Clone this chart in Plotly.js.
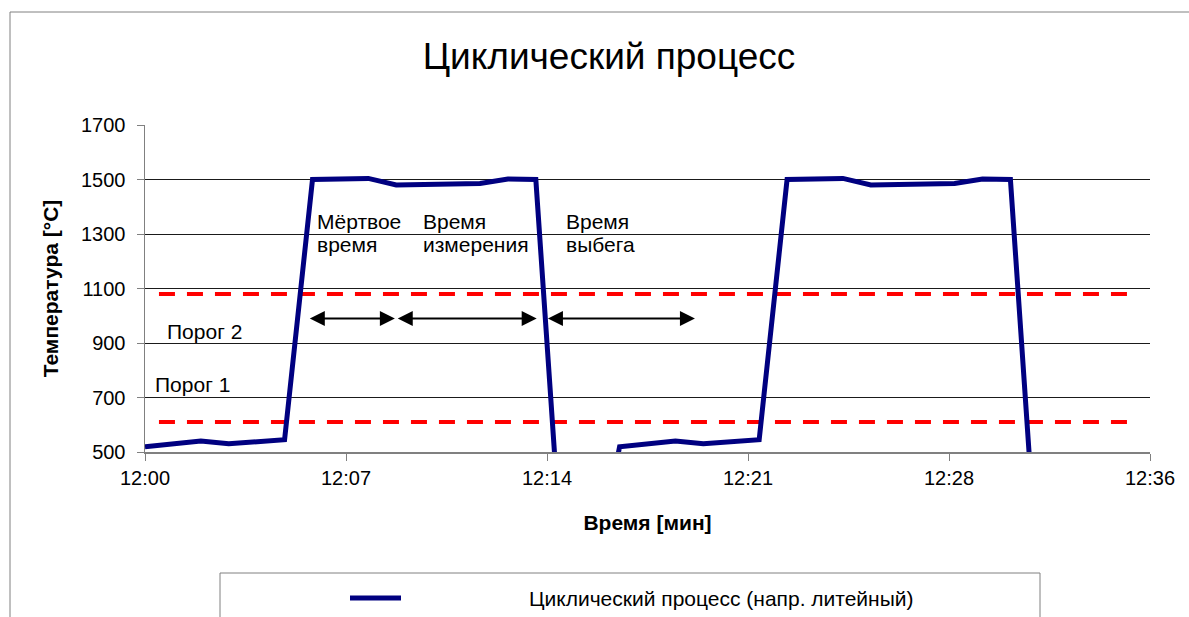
<!DOCTYPE html>
<html>
<head>
<meta charset="utf-8">
<script src="https://cdn.plot.ly/plotly-3.0.1.min.js"></script>
<style>
  html, body { margin: 0; padding: 0; background: #fff; }
  #chart { width: 1189px; height: 617px; }
</style>
</head>
<body>
<div id="chart"></div>
<script>
// ---- data (minutes after 12:00, temperature in °C) ----
const timeMin = [0, 2, 3, 5, 6, 8, 9, 12, 13, 14, 15, 16, 17, 19, 20, 22, 23, 25, 26, 29, 30, 31, 32];
const tempC   = [519, 540, 530, 545, 1500, 1504, 1480, 1485, 1502, 1500, 0, 0, 519, 540, 530, 545, 1500, 1504, 1480, 1485, 1502, 1500, 0];

const thresholdX = [0.5, 35.5];
const threshold1 = 610;   // Порог 1
const threshold2 = 1080;  // Порог 2

const xTickVals = [0, 7.2, 14.4, 21.6, 28.8, 36];
const xTickText = ["12:00", "12:07", "12:14", "12:21", "12:28", "12:36"];

const arrowFrom  = [5.85, 9.0, 14.38];
const arrowTo    = [8.95, 14.03, 19.7];
const arrowLevel = 990;

const phaseLine1 = ["Мёртвое", "Время", "Время"];
const phaseLine2 = ["время", "измерения", "выбега"];
const phaseLabelX = [6.1, 9.9, 15.0];
const phaseLine1Y = 1345;
const phaseLine2Y = 1263;

const thresholdLabels = ["Порог 2", "Порог 1"];
const thresholdLabelX = [0.7, 0.28];
const thresholdLabelY = [941, 748];

const seriesName = "Циклический процесс (напр. литейный)";

const FONT = "Liberation Sans, Arial, sans-serif";

// ---- traces ----
const traces = [
  {
    x: thresholdX, y: [threshold2, threshold2], mode: "lines", showlegend: false,
    line: { color: "#ff0000", width: 4, dash: "16px,12px" }, hoverinfo: "skip"
  },
  {
    x: thresholdX, y: [threshold1, threshold1], mode: "lines", showlegend: false,
    line: { color: "#ff0000", width: 4, dash: "16px,12px" }, hoverinfo: "skip"
  },
  {
    x: timeMin, y: tempC, mode: "lines", name: seriesName, showlegend: false,
    line: { color: "#000080", width: 5 }
  }
];

// ---- geometry helpers (plot area in pixels) ----
const L = 145, R = 39, T = 125, B = 165, W = 1189, H = 617;
const pw = W - L - R, ph = H - T - B;
const px = v => (v - L) / pw;
const py = v => (H - B - v) / ph;

// ---- annotations ----
const annotations = [];
for (let i = 0; i < arrowFrom.length; i++) {
  annotations.push({
    x: arrowTo[i], y: arrowLevel, ax: arrowFrom[i], ay: arrowLevel,
    xref: "x", yref: "y", axref: "x", ayref: "y",
    text: "", showarrow: true, arrowside: "end+start",
    arrowhead: 2, arrowsize: 1.5, arrowwidth: 2, arrowcolor: "#000",
    standoff: 0, startstandoff: 0
  });
}
for (let i = 0; i < phaseLine1.length; i++) {
  [[phaseLine1[i], phaseLine1Y], [phaseLine2[i], phaseLine2Y]].forEach(([t, yv]) => {
    annotations.push({
      x: phaseLabelX[i], y: yv, xref: "x", yref: "y",
      text: t, showarrow: false, xanchor: "left", yanchor: "middle",
      font: { family: FONT, size: 21, color: "#000" }
    });
  });
}
for (let i = 0; i < thresholdLabels.length; i++) {
  annotations.push({
    x: thresholdLabelX[i], y: thresholdLabelY[i], xref: "x", yref: "y",
    text: thresholdLabels[i], showarrow: false, xanchor: "left", yanchor: "middle",
    font: { family: FONT, size: 21, color: "#000" }
  });
}
// custom legend text
annotations.push({
  x: px(721), y: py(598), xref: "paper", yref: "paper",
  text: seriesName, showarrow: false, xanchor: "center", yanchor: "middle",
  font: { family: FONT, size: 21, color: "#000" }
});

const shapes = [
  // outer chart frame
  { type: "rect", xref: "paper", yref: "paper", x0: px(10), x1: px(1250), y0: py(700), y1: py(12),
    line: { color: "#808080", width: 1 }, fillcolor: "rgba(0,0,0,0)", layer: "below" },
  // legend box
  { type: "rect", xref: "paper", yref: "paper", x0: px(220), x1: px(1040), y0: py(700), y1: py(573),
    line: { color: "#808080", width: 1 }, fillcolor: "rgba(0,0,0,0)" },
  // legend line sample
  { type: "line", xref: "paper", yref: "paper", x0: px(350), x1: px(401), y0: py(598), y1: py(598),
    line: { color: "#000080", width: 5 } }
];

const layout = {
  width: W, height: H,
  margin: { l: L, r: R, t: T, b: B },
  paper_bgcolor: "#fff", plot_bgcolor: "#fff",
  font: { family: FONT, size: 20, color: "#000" },
  title: {
    text: "Циклический процесс",
    font: { family: FONT, size: 37, color: "#000" },
    xref: "container", x: 609 / W, xanchor: "center",
    yref: "container", y: 1 - 56 / H, yanchor: "middle"
  },
  xaxis: {
    range: [0, 36], tickvals: xTickVals, ticktext: xTickText,
    showgrid: false, zeroline: false,
    showline: true, linecolor: "#808080", linewidth: 2,
    ticks: "outside", ticklen: 7, tickcolor: "#808080", tickwidth: 1,
    tickfont: { family: FONT, size: 20, color: "#000" },
    title: { text: "Время [мин]", font: { family: FONT, size: 21, color: "#000", weight: "bold" }, standoff: 27 },
    fixedrange: true
  },
  yaxis: {
    range: [500, 1700], tick0: 500, dtick: 200,
    showgrid: true, gridcolor: "#1a1a1a", gridwidth: 1, zeroline: false,
    showline: true, linecolor: "#808080", linewidth: 1.5,
    ticks: "outside", ticklen: 7, tickcolor: "#808080", tickwidth: 1,
    tickfont: { family: FONT, size: 20, color: "#000" },
    ticklabelstandoff: 7,
    title: { text: "Температура [°C]", font: { family: FONT, size: 21, color: "#000", weight: "bold" }, standoff: 16 },
    fixedrange: true
  },
  showlegend: false,
  annotations: annotations,
  shapes: shapes
};

Plotly.newPlot("chart", traces, layout, { displayModeBar: false, staticPlot: true });
</script>
</body>
</html>
